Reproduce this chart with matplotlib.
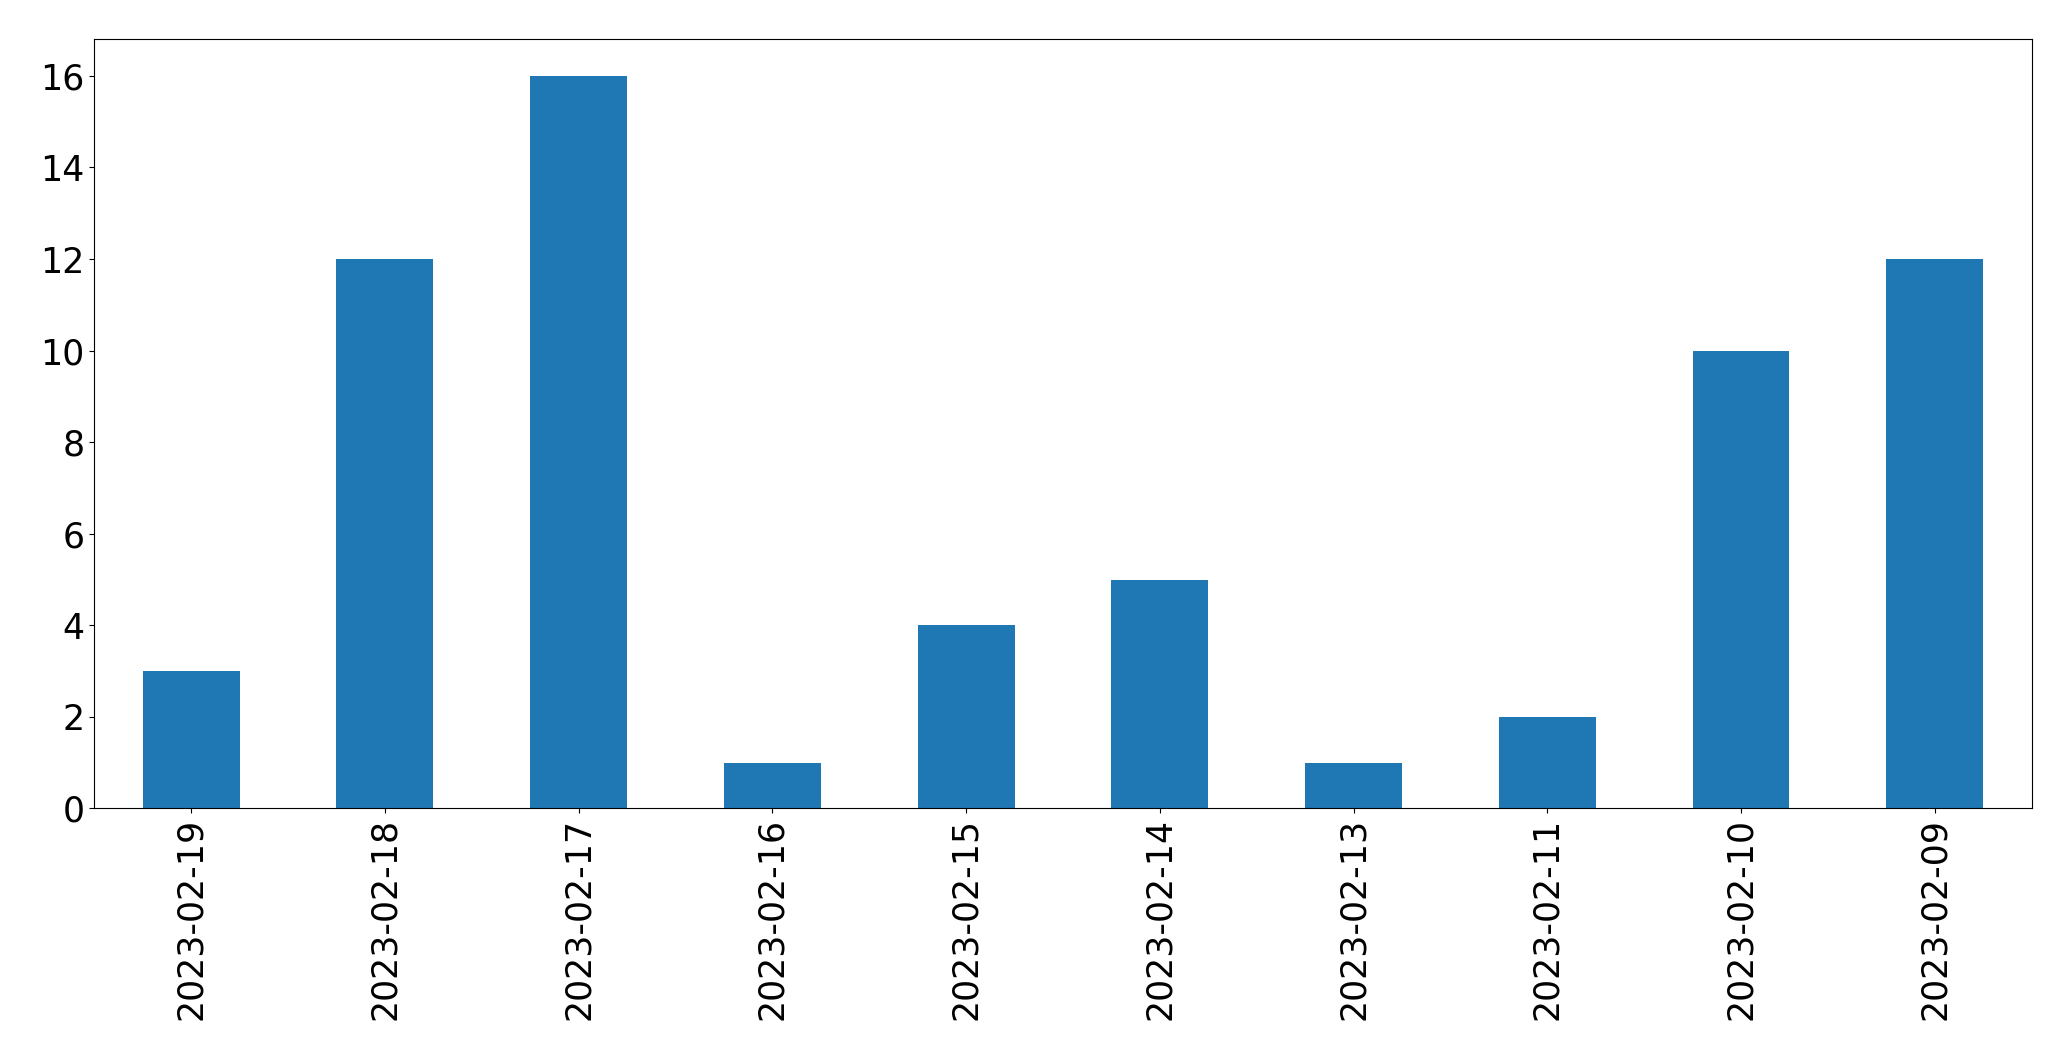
import matplotlib
matplotlib.use('Agg')
import matplotlib.pyplot as plt
import pandas as pd

# data
dates = ['2023-02-19', '2023-02-18', '2023-02-17', '2023-02-16', '2023-02-15',
         '2023-02-14', '2023-02-13', '2023-02-11', '2023-02-10', '2023-02-09']
counts = [3, 12, 16, 1, 4, 5, 1, 2, 10, 12]

s = pd.Series(counts, index=dates)

fig, ax = plt.subplots(figsize=(20.71, 10.61), dpi=100)
s.plot(kind='bar', ax=ax, color='#1f77b4', fontsize=25)
ax.tick_params(axis='both', labelsize=25)
fig.subplots_adjust(left=0.0455, right=0.981, top=0.963, bottom=0.238)
fig.savefig('out.png', dpi=100)
